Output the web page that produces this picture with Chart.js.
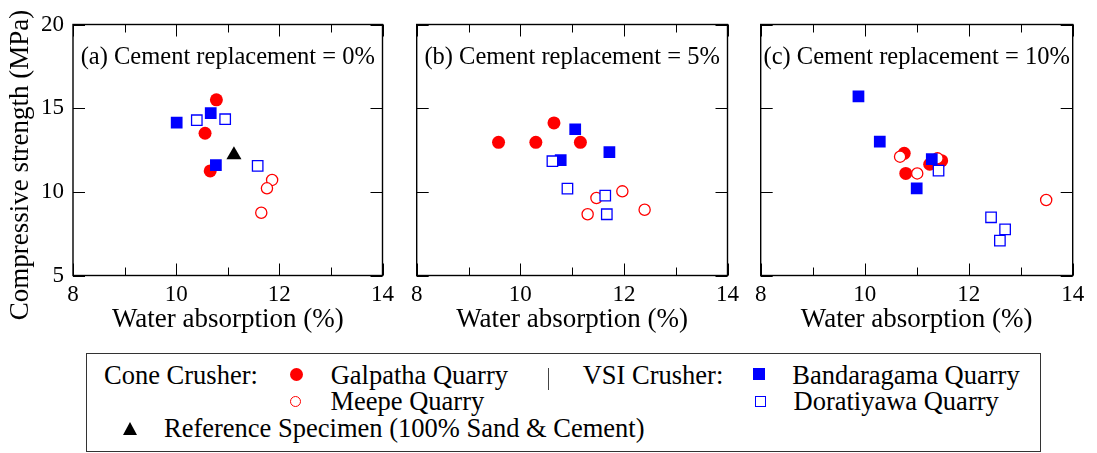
<!DOCTYPE html>
<html>
<head>
<meta charset="utf-8">
<script src="https://cdn.jsdelivr.net/npm/chart.js@4.4.0/dist/chart.umd.min.js"></script>
<style>
  body { margin: 0; background: #fff; width: 1097px; height: 453px; position: relative; overflow: hidden;
         font-family: "Liberation Serif", "Times New Roman", serif; }
  canvas { position: absolute; top: 0; }
  #legendBox { position: absolute; left: 86px; top: 353px; width: 955px; height: 99px; border: 1.5px solid #333; box-sizing: border-box; }
  .t { position: absolute; font-size: 26.5px; line-height: 1; white-space: nowrap; color: #000; }
  .m { position: absolute; box-sizing: border-box; }
</style>
</head>
<body>
<canvas id="panelA" width="400" height="345" style="left:0px"></canvas>
<canvas id="panelB" width="345" height="345" style="left:400px"></canvas>
<canvas id="panelC" width="352" height="345" style="left:745px"></canvas>

<div id="legendBox"></div>
<span class="t" style="left:104px; top:362px">Cone Crusher:</span>
<div class="m" style="left:290px; top:368px; width:13px; height:13px; border-radius:50%; background:#f00"></div>
<span class="t" style="left:330.7px; top:362px">Galpatha Quarry</span>
<div class="m" style="left:548px; top:368px; width:1px; height:22px; background:#444"></div>
<span class="t" style="left:582.7px; top:362px">VSI Crusher:</span>
<div class="m" style="left:753px; top:368px; width:12px; height:12px; background:#00f"></div>
<span class="t" style="left:792.3px; top:362px">Bandaragama Quarry</span>

<div class="m" style="left:290px; top:396px; width:11px; height:11px; border-radius:50%; border:1.3px solid #f00; background:#fff"></div>
<span class="t" style="left:330.5px; top:388px">Meepe Quarry</span>
<div class="m" style="left:754.5px; top:395.5px; width:11.5px; height:11.5px; border:1.3px solid #00f; background:#fff"></div>
<span class="t" style="left:793.5px; top:388px">Doratiyawa Quarry</span>

<div class="m" style="left:123px; top:421.5px; width:0; height:0; border-left:7.8px solid transparent; border-right:7.8px solid transparent; border-bottom:13px solid #000"></div>
<span class="t" style="left:164px; top:414.5px">Reference Specimen (100% Sand &amp; Cement)</span>

<script>
const serif = '"Liberation Serif", "Times New Roman", serif';

const panelLabels = ['(a) Cement replacement = 0%', '(b) Cement replacement = 5%', '(c) Cement replacement = 10%'];
const xTickValues = [8, 9, 10, 11, 12, 13, 14];
const yTickValues = [5, 10, 15, 20];

// [water absorption (%), compressive strength (MPa)] for each panel
const galpatha = [
  [[10.78, 15.5], [10.56, 13.5], [10.66, 11.25]],
  [[9.58, 12.96], [10.30, 12.96], [10.65, 14.12], [11.16, 12.96]],
  [[10.76, 12.3], [10.79, 11.1], [11.25, 11.65], [11.48, 11.86]]
];
const meepe = [
  [[11.86, 10.71], [11.76, 10.21], [11.65, 8.75]],
  [[11.47, 9.63], [11.30, 8.66], [11.97, 10.03], [12.40, 8.93]],
  [[10.68, 12.1], [11.01, 11.1], [11.40, 12.0], [13.49, 9.51]]
];
const bandaragama = [
  [[10.01, 14.13], [10.67, 14.7], [10.77, 11.59]],
  [[11.06, 13.74], [10.78, 11.89], [11.72, 12.38]],
  [[9.88, 15.71], [10.29, 13.0], [11.29, 11.95], [11.0, 10.21]]
];
const doratiyawa = [
  [[10.40, 14.28], [10.95, 14.34], [11.58, 11.55]],
  [[10.62, 11.83], [10.91, 10.19], [11.64, 9.77], [11.67, 8.66]],
  [[11.42, 11.27], [12.43, 8.48], [12.70, 7.76], [12.60, 7.08]]
];
const reference = [
  [[11.12, 12.2]],
  [],
  []
];

const toPts = arr => arr.map(p => ({ x: p[0], y: p[1] }));

// frame, inward ticks, panel label and y title
const frameTicks = {
  id: 'frameTicks',
  afterDraw(chart, args, opts) {
    const { ctx, chartArea: a, scales: { x, y } } = chart;
    ctx.save();
    ctx.strokeStyle = '#000';
    ctx.lineWidth = 1;
    ctx.beginPath();
    xTickValues.forEach(v => {
      const px = Math.round(x.getPixelForValue(v)) + 0.5;
      const len = v % 2 === 0 ? 12 : 8;
      ctx.moveTo(px, a.bottom); ctx.lineTo(px, a.bottom - len);
      ctx.moveTo(px, a.top); ctx.lineTo(px, a.top + len);
    });
    yTickValues.forEach(v => {
      const py = Math.round(y.getPixelForValue(v)) + 0.5;
      ctx.moveTo(a.left, py); ctx.lineTo(a.left + 12, py);
      ctx.moveTo(a.right, py); ctx.lineTo(a.right - 12, py);
    });
    ctx.stroke();
    ctx.lineWidth = 1.4;
    ctx.strokeRect(a.left, a.top, a.right - a.left, a.bottom - a.top);

    ctx.fillStyle = '#000';
    ctx.font = '24.5px ' + serif;
    ctx.textAlign = 'center';
    ctx.textBaseline = 'alphabetic';
    ctx.fillText(opts.label, (a.left + a.right) / 2, 63.5);

    if (opts.yTitle) {
      ctx.translate(28, 165);
      ctx.rotate(-Math.PI / 2);
      ctx.font = '27px ' + serif;
      ctx.fillText(opts.yTitle, 0, 0);
    }
    ctx.restore();
  }
};

function makePanel(id, i, pad) {
  const first = i === 0;
  new Chart(document.getElementById(id), {
    type: 'scatter',
    data: {
      datasets: [
        { label: 'Reference Specimen (100% Sand & Cement)', data: toPts(reference[i]),
          pointStyle: 'triangle', pointRadius: 8.7, backgroundColor: '#000', borderColor: '#000', borderWidth: 0 },
        { label: 'Doratiyawa Quarry', data: toPts(doratiyawa[i]),
          pointStyle: 'rect', pointRadius: 7.4, backgroundColor: '#fff', borderColor: '#00f', borderWidth: 1.3 },
        { label: 'Bandaragama Quarry', data: toPts(bandaragama[i]),
          pointStyle: 'rect', pointRadius: 8.3, backgroundColor: '#00f', borderColor: '#00f', borderWidth: 0 },
        { label: 'Meepe Quarry', data: toPts(meepe[i]),
          pointStyle: 'circle', pointRadius: 5.6, backgroundColor: '#fff', borderColor: '#f00', borderWidth: 1.3 },
        { label: 'Galpatha Quarry', data: toPts(galpatha[i]),
          pointStyle: 'circle', pointRadius: 6.5, backgroundColor: '#f00', borderColor: '#f00', borderWidth: 0 }
      ]
    },
    options: {
      responsive: false,
      animation: false,
      devicePixelRatio: 1,
      events: [],
      layout: { padding: { left: pad.left, right: pad.right, top: 24.5, bottom: 0 } },
      plugins: {
        legend: { display: false },
        tooltip: { enabled: false },
        frameTicks: { label: panelLabels[i], yTitle: first ? 'Compressive strength (MPa)' : null }
      },
      scales: {
        x: {
          type: 'linear', min: 8, max: 14,
          grid: { display: false, drawTicks: false },
          border: { display: false },
          ticks: { stepSize: 2, color: '#000', padding: 6, font: { family: serif, size: 23 } },
          title: { display: true, text: 'Water absorption (%)', color: '#000',
                   font: { family: serif, size: 27 }, padding: { top: 0, bottom: 9 } },
          afterFit(s) { s.height = 69.5; }
        },
        y: {
          type: 'linear', min: 5, max: 20, display: first,
          grid: { display: false, drawTicks: false },
          border: { display: false },
          ticks: { stepSize: 5, color: '#000', padding: 9, font: { family: serif, size: 23 } },
          afterFit(s) { if (first) s.width = 73; }
        }
      }
    },
    plugins: [frameTicks]
  });
}

makePanel('panelA', 0, { left: 0, right: 15 });
makePanel('panelB', 1, { left: 16.7, right: 16 });
makePanel('panelC', 2, { left: 15.7, right: 24.3 });
</script>
</body>
</html>
